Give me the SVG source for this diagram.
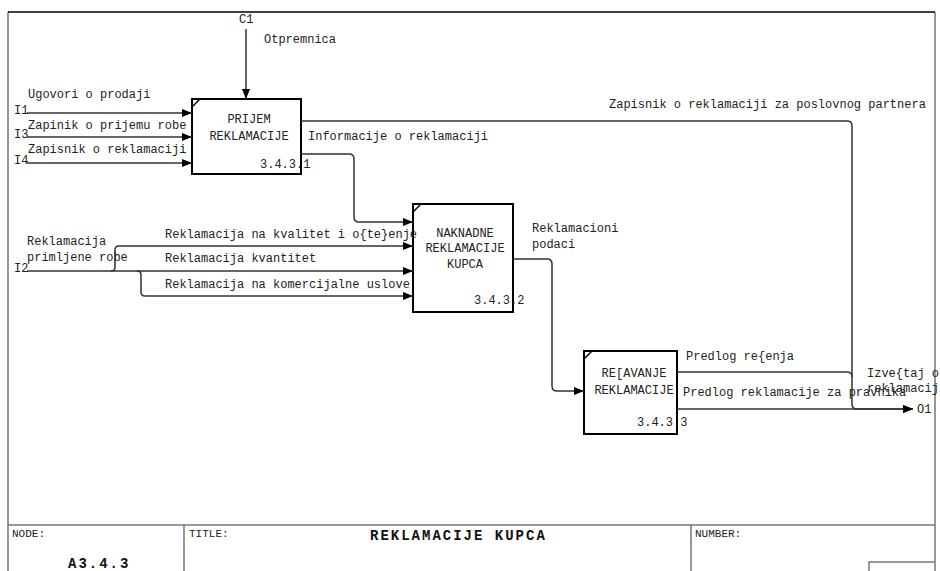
<svg xmlns="http://www.w3.org/2000/svg" width="940" height="571" viewBox="0 0 940 571">
  <style>
    text { font-family: "Liberation Mono", "Courier New", monospace; font-size: 12px; fill: #222; }
    .small { font-size: 11px; }
    .big { font-size: 14px; font-weight: bold; letter-spacing: 2px; fill: #111; }
    .box { fill: #fff; stroke: #000; stroke-width: 2; }
    .corner { stroke: #000; stroke-width: 1.5; }
    .frame { fill: none; stroke: #777; stroke-width: 1.5; }
    .conn { fill: none; stroke: #333; stroke-width: 1.5; }
    .mid { text-anchor: middle; }
  </style>
  <defs>
    <marker id="arrow" viewBox="0 0 10 8" refX="10" refY="4" markerWidth="11" markerHeight="8" orient="auto" markerUnits="userSpaceOnUse">
      <path d="M0,0 L10,4 L0,8 Z" fill="#000"/>
    </marker>
  </defs>
  <rect x="0" y="0" width="940" height="571" fill="#fff"/>

  <!-- drawing frame and title block -->
  <g id="frame">
    <path class="frame" d="M8,12 V571 M935,12 V571 M8,525 H935 M184,525 V571 M691,525 V571 M869,571 V562 H935"/>
    <path d="M8,12 H935" stroke="#000" stroke-width="1.5"/>
    <text class="small" x="12" y="537">NODE:</text>
    <text class="small" x="189" y="537">TITLE:</text>
    <text class="small" x="695" y="537">NUMBER:</text>
    <text class="big" x="68" y="568">A3.4.3</text>
    <text class="big" x="370" y="540">REKLAMACIJE KUPCA</text>
  </g>

  <!-- activity boxes -->
  <g id="node-3.4.3.1">
    <rect class="box" x="192" y="99" width="109" height="75"/>
    <line class="corner" x1="192" y1="107" x2="200" y2="99"/>
    <text class="mid" x="249" y="123">PRIJEM</text>
    <text class="mid" x="249" y="140">REKLAMACIJE</text>
    <text x="260" y="168">3.4.3.1</text>
  </g>
  <g id="node-3.4.3.2">
    <rect class="box" x="413" y="204" width="100" height="108"/>
    <line class="corner" x1="413" y1="212" x2="421" y2="204"/>
    <text class="mid" x="465" y="237">NAKNADNE</text>
    <text class="mid" x="465" y="252">REKLAMACIJE</text>
    <text class="mid" x="465" y="268">KUPCA</text>
    <text x="474" y="304">3.4.3.2</text>
  </g>
  <g id="node-3.4.3.3">
    <rect class="box" x="584" y="351" width="93" height="83"/>
    <line class="corner" x1="584" y1="359" x2="592" y2="351"/>
    <text class="mid" x="634" y="377">RE[AVANJE</text>
    <text class="mid" x="634" y="394">REKLAMACIJE</text>
    <text x="637" y="426">3.4.3.3</text>
  </g>

  <!-- arrows between boundary and boxes -->
  <g id="connectors">
    <path class="conn" marker-end="url(#arrow)" d="M246,29 V99"/>
    <path class="conn" marker-end="url(#arrow)" d="M27,113 H192"/>
    <path class="conn" marker-end="url(#arrow)" d="M27,137 H192"/>
    <path class="conn" marker-end="url(#arrow)" d="M27,163 H192"/>
    <path class="conn" marker-end="url(#arrow)" d="M301,154 H349 Q354,154 354,159 V217 Q354,222 359,222 H413"/>
    <path class="conn" marker-end="url(#arrow)" d="M27,271 H413"/>
    <path class="conn" marker-end="url(#arrow)" d="M111,271 Q115,271 115,267 V250 Q115,246 119,246 H413"/>
    <path class="conn" marker-end="url(#arrow)" d="M137,271 Q141,271 141,275 V292 Q141,296 145,296 H413"/>
    <path class="conn" marker-end="url(#arrow)" d="M513,259 H547 Q552,259 552,264 V386 Q552,391 557,391 H584"/>
    <path class="conn" marker-end="url(#arrow)" d="M301,121 H847 Q852,121 852,126 V404 Q852,409 857,409 H913"/>
    <path class="conn" d="M677,372 H847 Q852,372 852,377"/>
    <path class="conn" marker-end="url(#arrow)" d="M677,409 H913"/>
  </g>

  <!-- arrow labels and boundary codes -->
  <g id="labels">
    <text x="239" y="23">C1</text>
    <text x="264" y="43">Otpremnica</text>
    <text x="14" y="114">I1</text>
    <text x="14" y="138">I3</text>
    <text x="14" y="164">I4</text>
    <text x="14" y="272">I2</text>
    <text x="917" y="413">O1</text>
    <text x="28" y="98">Ugovori o prodaji</text>
    <text x="28" y="129">Zapinik o prijemu robe</text>
    <text x="28" y="153">Zapisnik o reklamaciji</text>
    <text x="308" y="140">Informacije o reklamaciji</text>
    <text x="609" y="108">Zapisnik o reklamaciji za poslovnog partnera</text>
    <text x="27" y="245">Reklamacija</text>
    <text x="27" y="261">primljene robe</text>
    <text x="165" y="238">Reklamacija na kvalitet i o{te}enje</text>
    <text x="165" y="262">Reklamacija kvantitet</text>
    <text x="165" y="288">Reklamacija na komercijalne uslove</text>
    <text x="532" y="232">Reklamacioni</text>
    <text x="532" y="248">podaci</text>
    <text x="686" y="360">Predlog re{enja</text>
    <text x="683" y="396">Predlog reklamacije za pravnika</text>
    <text x="867" y="377">Izve{taj o</text>
    <text x="867" y="392">reklamaciji</text>
  </g>
</svg>
